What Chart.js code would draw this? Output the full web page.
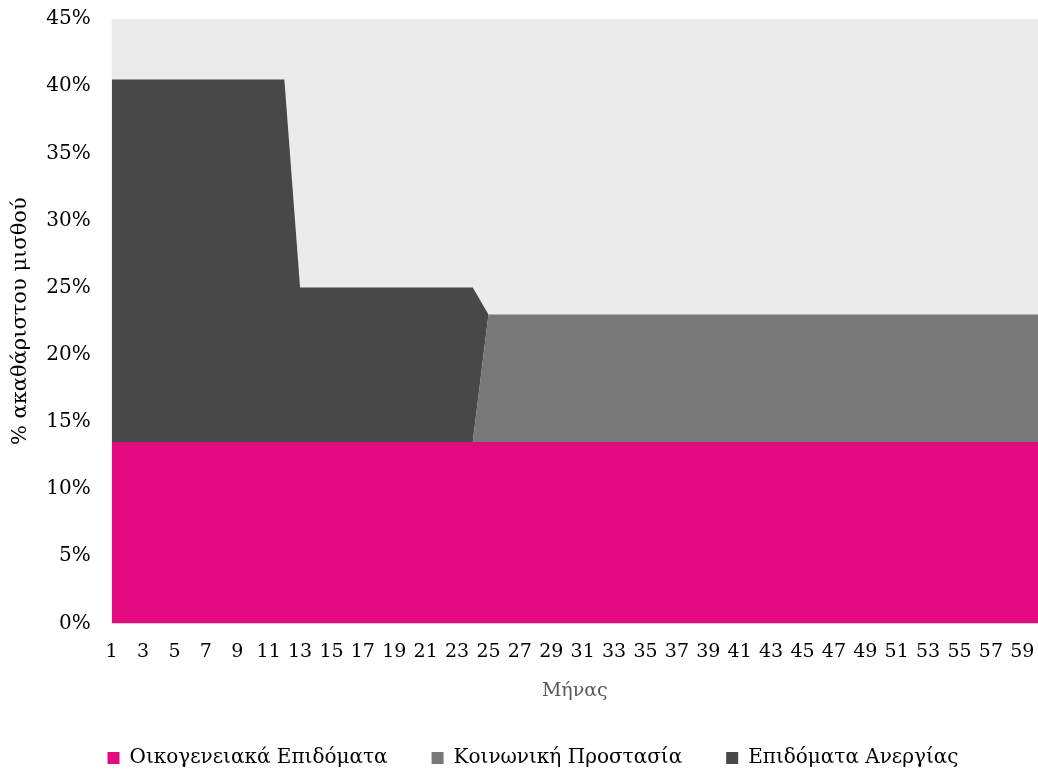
<!DOCTYPE html>
<html>
<head>
<meta charset="utf-8">
<script src="https://cdn.jsdelivr.net/npm/chart.js@4/dist/chart.umd.min.js"></script>
<style>
  html, body { margin: 0; padding: 0; background: #ffffff; overflow: hidden; }
</style>
</head>
<body>
<canvas id="benefitsChart" width="1038" height="769"></canvas>
<script>
// Month categories (x axis)
const months = [
    1, 2, 3, 4, 5, 6, 7, 8, 9, 10, 11, 12, 13, 14, 15, 16, 17, 18, 19, 20,
    21, 22, 23, 24, 25, 26, 27, 28, 29, 30, 31, 32, 33, 34, 35, 36, 37, 38, 39, 40,
    41, 42, 43, 44, 45, 46, 47, 48, 49, 50, 51, 52, 53, 54, 55, 56, 57, 58, 59, 60
];

// Family benefits (% of gross wage)
const familyBenefits = [
    13.5, 13.5, 13.5, 13.5, 13.5, 13.5, 13.5, 13.5, 13.5, 13.5, 13.5, 13.5, 13.5, 13.5, 13.5, 13.5, 13.5, 13.5, 13.5, 13.5,
    13.5, 13.5, 13.5, 13.5, 13.5, 13.5, 13.5, 13.5, 13.5, 13.5, 13.5, 13.5, 13.5, 13.5, 13.5, 13.5, 13.5, 13.5, 13.5, 13.5,
    13.5, 13.5, 13.5, 13.5, 13.5, 13.5, 13.5, 13.5, 13.5, 13.5, 13.5, 13.5, 13.5, 13.5, 13.5, 13.5, 13.5, 13.5, 13.5, 13.5
];

// Social protection (% of gross wage)
const socialProtection = [
    0, 0, 0, 0, 0, 0, 0, 0, 0, 0, 0, 0, 0, 0, 0, 0, 0, 0, 0, 0,
    0, 0, 0, 0, 9.5, 9.5, 9.5, 9.5, 9.5, 9.5, 9.5, 9.5, 9.5, 9.5, 9.5, 9.5, 9.5, 9.5, 9.5, 9.5,
    9.5, 9.5, 9.5, 9.5, 9.5, 9.5, 9.5, 9.5, 9.5, 9.5, 9.5, 9.5, 9.5, 9.5, 9.5, 9.5, 9.5, 9.5, 9.5, 9.5
];

// Unemployment benefits (% of gross wage)
const unemploymentBenefits = [
    27, 27, 27, 27, 27, 27, 27, 27, 27, 27, 27, 27, 11.5, 11.5, 11.5, 11.5, 11.5, 11.5, 11.5, 11.5,
    11.5, 11.5, 11.5, 11.5, 0, 0, 0, 0, 0, 0, 0, 0, 0, 0, 0, 0, 0, 0, 0, 0,
    0, 0, 0, 0, 0, 0, 0, 0, 0, 0, 0, 0, 0, 0, 0, 0, 0, 0, 0, 0
];

const yTicks = [0, 5, 10, 15, 20, 25, 30, 35, 40, 45];

const FONT = "'DejaVu Serif', serif";

// Grey plot-area background
const plotBackground = {
    id: 'plotBackground',
    beforeDatasetsDraw(chart) {
        const { ctx, chartArea } = chart;
        ctx.save();
        ctx.fillStyle = '#ebebeb';
        ctx.fillRect(chartArea.left, chartArea.top, chartArea.right - chartArea.left, chartArea.bottom - chartArea.top);
        ctx.restore();
    }
};

const areaStyle = {
    pointRadius: 0,
    pointHoverRadius: 0,
    borderWidth: 0,
    tension: 0
};

new Chart(document.getElementById('benefitsChart').getContext('2d'), {
    type: 'line',
    data: {
        labels: months,
        datasets: [
            {
                label: 'Οικογενειακά Επιδόματα',
                data: familyBenefits,
                backgroundColor: '#e3097f',
                borderColor: '#e3097f',
                fill: 'origin',
                ...areaStyle
            },
            {
                label: 'Κοινωνική Προστασία',
                data: socialProtection,
                backgroundColor: '#787878',
                borderColor: '#787878',
                fill: '-1',
                ...areaStyle
            },
            {
                label: 'Επιδόματα Ανεργίας',
                data: unemploymentBenefits,
                backgroundColor: '#484848',
                borderColor: '#484848',
                fill: '-1',
                ...areaStyle
            }
        ]
    },
    options: {
        responsive: false,
        animation: false,
        layout: {
            padding: { left: 8, right: -20, top: -13, bottom: -9 }
        },
        plugins: {
            legend: {
                position: 'bottom',
                labels: {
                    boxWidth: 12,
                    boxHeight: 12,
                    padding: 44,
                    color: '#000000',
                    font: { family: FONT, size: 20 }
                }
            },
            tooltip: { enabled: false },
            filler: { propagate: false }
        },
        scales: {
            x: {
                offset: false,
                grid: { display: false },
                border: { display: true, color: '#d9d9d9' },
                afterFit: function(scale) {
                    scale.paddingRight = 0; // let the plot run to the right edge
                },
                ticks: {
                    autoSkip: false,
                    maxRotation: 0,
                    padding: 9,
                    color: '#000000',
                    font: { family: FONT, size: 19 },
                    callback: function(value, index) {
                        return index % 2 === 0 ? String(months[index]) : '';
                    }
                },
                title: {
                    display: true,
                    text: 'Μήνας',
                    color: '#595959',
                    font: { family: FONT, size: 19 },
                    padding: { top: 7, bottom: 2 }
                }
            },
            y: {
                stacked: true,
                min: 0,
                max: 45,
                grid: { display: false },
                border: { display: false },
                afterBuildTicks: function(scale) {
                    scale.ticks = yTicks.map(v => ({ value: v }));
                },
                afterFit: function(scale) {
                    scale.paddingTop = 19; // top of the plot sits close to the canvas edge
                },
                ticks: {
                    padding: 13,
                    color: '#000000',
                    font: { family: FONT, size: 20 },
                    callback: function(value) { return value + '%'; }
                },
                title: {
                    display: true,
                    text: '% ακαθάριστου μισθού',
                    color: '#000000',
                    font: { family: FONT, size: 21 },
                    padding: { top: 0, bottom: 0 }
                }
            }
        }
    },
    plugins: [plotBackground]
});
</script>
</body>
</html>
